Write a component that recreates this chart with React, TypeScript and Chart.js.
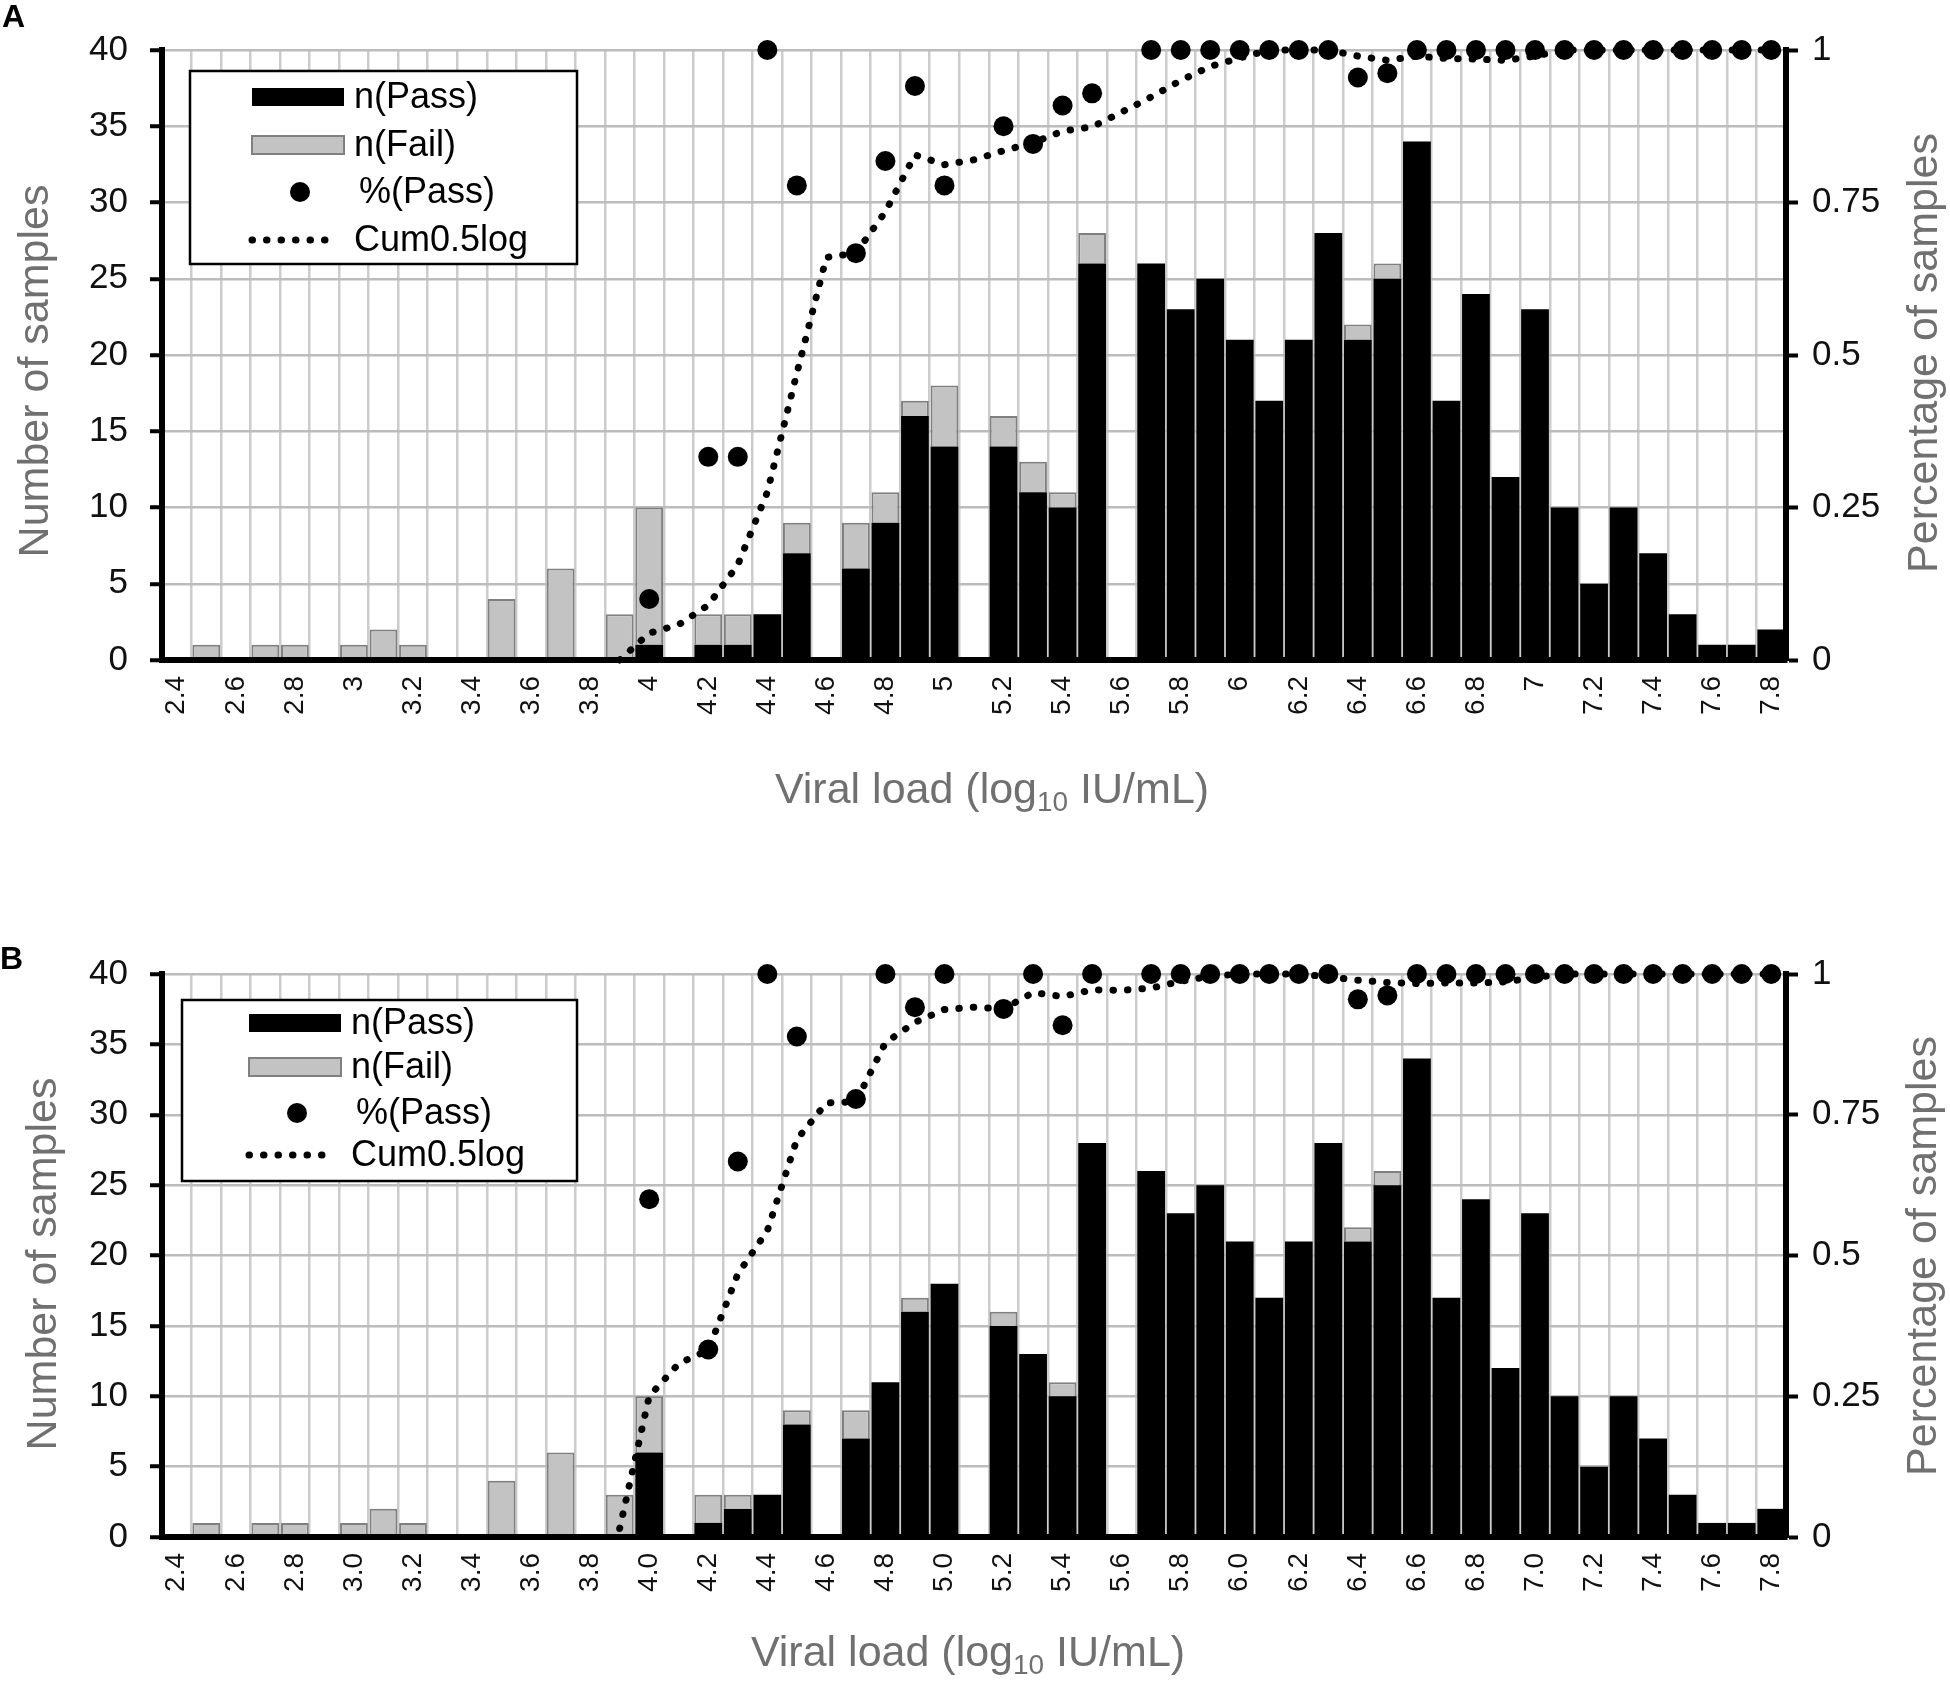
import { useEffect, useRef } from 'react';
import { Chart, ChartConfiguration, Plugin, registerables } from 'chart.js';

Chart.register(...registerables);

const FONT = '"Liberation Sans", Arial, Helvetica, sans-serif';

const CATEGORIES = [
  '2.4', '2.5', '2.6', '2.7', '2.8', '2.9', '3.0', '3.1', '3.2', '3.3',
  '3.4', '3.5', '3.6', '3.7', '3.8', '3.9', '4.0', '4.1', '4.2', '4.3',
  '4.4', '4.5', '4.6', '4.7', '4.8', '4.9', '5.0', '5.1', '5.2', '5.3',
  '5.4', '5.5', '5.6', '5.7', '5.8', '5.9', '6.0', '6.1', '6.2', '6.3',
  '6.4', '6.5', '6.6', '6.7', '6.8', '6.9', '7.0', '7.1', '7.2', '7.3',
  '7.4', '7.5', '7.6', '7.7', '7.8',
];

const RIGHT_TICKS = ['0', '0.25', '0.5', '0.75', '1'];

// panel A
const PASS_A = [
  0, 0, 0, 0, 0, 0, 0, 0, 0, 0,
  0, 0, 0, 0, 0, 0, 1, 0, 1, 1,
  3, 7, 0, 6, 9, 16, 14, 0, 14, 11,
  10, 26, 0, 26, 23, 25, 21, 17, 21, 28,
  21, 25, 34, 17, 24, 12, 23, 10, 5, 10,
  7, 3, 1, 1, 2,
];
const FAIL_A = [
  0, 1, 0, 1, 1, 0, 1, 2, 1, 0,
  0, 4, 0, 6, 0, 3, 9, 0, 2, 2,
  0, 2, 0, 3, 2, 1, 4, 0, 2, 2,
  1, 2, 0, 0, 0, 0, 0, 0, 0, 0,
  1, 1, 0, 0, 0, 0, 0, 0, 0, 0,
  0, 0, 0, 0, 0,
];
const PCT_A = [
  null, null, null, null, null, null, null, null, null, null,
  null, null, null, null, null, null, 0.1, null, 0.333, 0.333,
  1, 0.778, null, 0.667, 0.818, 0.941, 0.778, null, 0.875, 0.846,
  0.909, 0.929, null, 1, 1, 1, 1, 1, 1, 1,
  0.955, 0.962, 1, 1, 1, 1, 1, 1, 1, 1,
  1, 1, 1, 1, 1,
];
const CUM_A = [
  null, null, null, null, null, null, null, null, null, null,
  null, null, null, null, null, 0, 0.044, 0.058, 0.09, 0.156,
  0.275, 0.47, 0.66, 0.667, 0.735, 0.828, 0.812, 0.82, 0.835, 0.848,
  0.867, 0.874, 0.898, 0.923, 0.95, 0.973, 0.987, 1, 1, 1,
  0.99, 0.983, 0.99, 0.986, 0.985, 0.983, 0.99, 1, 1, 1,
  1, 1, 1, 1, 1,
];

// panel B
const PASS_B = [
  0, 0, 0, 0, 0, 0, 0, 0, 0, 0,
  0, 0, 0, 0, 0, 0, 6, 0, 1, 2,
  3, 8, 0, 7, 11, 16, 18, 0, 15, 13,
  10, 28, 0, 26, 23, 25, 21, 17, 21, 28,
  21, 25, 34, 17, 24, 12, 23, 10, 5, 10,
  7, 3, 1, 1, 2,
];
const FAIL_B = [
  0, 1, 0, 1, 1, 0, 1, 2, 1, 0,
  0, 4, 0, 6, 0, 3, 4, 0, 2, 1,
  0, 1, 0, 2, 0, 1, 0, 0, 1, 0,
  1, 0, 0, 0, 0, 0, 0, 0, 0, 0,
  1, 1, 0, 0, 0, 0, 0, 0, 0, 0,
  0, 0, 0, 0, 0,
];
const PCT_B = [
  null, null, null, null, null, null, null, null, null, null,
  null, null, null, null, null, null, 0.6, null, 0.333, 0.667,
  1, 0.889, null, 0.778, 1, 0.941, 1, null, 0.938, 1,
  0.909, 1, null, 1, 1, 1, 1, 1, 1, 1,
  0.955, 0.962, 1, 1, 1, 1, 1, 1, 1, 1,
  1, 1, 1, 1, 1,
];
const CUM_B = [
  null, null, null, null, null, null, null, null, null, null,
  null, null, null, null, null, 0.015, 0.25, 0.308, 0.332, 0.467,
  0.544, 0.706, 0.771, 0.773, 0.878, 0.914, 0.937, 0.941, 0.938, 0.967,
  0.96, 0.972, 0.971, 0.975, 0.987, 0.996, 1, 1, 1, 0.995,
  0.989, 0.985, 0.983, 0.984, 0.984, 0.986, 0.994, 1, 1, 1,
  1, 1, 1, 1, 1,
];

const LEGEND_LABELS = ['n(Pass)', 'n(Fail)', '%(Pass)', 'Cum0.5log'];

interface PanelSpec {
  letter: string;
  pass: number[];
  fail: number[];
  pct: (number | null)[];
  cum: (number | null)[];
  tickLabel: (c: string) => string;
  top: number;
  height: number;
  padTop: number;
  xHeight: number;
  letterPos: [number, number];
  xTitlePos: [number, number];
  yTitlePos: [number, number];
  y1TitlePos: [number, number];
  legendBox: [number, number, number, number];
  legendRows: number[];
  swatch: [number, number];
  dotX: number;
  textX: number;
}

const PANEL_A: PanelSpec = {
  letter: 'A',
  pass: PASS_A,
  fail: FAIL_A,
  pct: PCT_A,
  cum: CUM_A,
  tickLabel: (c) => String(Number(c)),
  top: 0,
  height: 880,
  padTop: 50,
  xHeight: 220,
  letterPos: [2, 2],
  xTitlePos: [992, 791],
  yTitlePos: [36, 371],
  y1TitlePos: [1925, 353],
  legendBox: [190, 71, 577, 264],
  legendRows: [97, 145, 192, 240],
  swatch: [252, 344],
  dotX: 300,
  textX: 354,
};

const PANEL_B: PanelSpec = {
  letter: 'B',
  pass: PASS_B,
  fail: FAIL_B,
  pct: PCT_B,
  cum: CUM_B,
  tickLabel: (c) => c,
  top: 900,
  height: 782,
  padTop: 74,
  xHeight: 145,
  letterPos: [0, 44],
  xTitlePos: [968, 754],
  yTitlePos: [44, 364],
  y1TitlePos: [1924, 356],
  legendBox: [182, 100, 577, 281],
  legendRows: [123, 167, 213, 255],
  swatch: [249, 341],
  dotX: 297,
  textX: 351,
};

function decorPlugin(p: PanelSpec): Plugin {
  return {
    id: 'decor',
    afterDraw(chart) {
      const ctx = chart.ctx;
      ctx.save();

      // panel letter
      ctx.fillStyle = '#000';
      ctx.font = `bold 32px ${FONT}`;
      ctx.textAlign = 'left';
      ctx.textBaseline = 'top';
      ctx.fillText(p.letter, p.letterPos[0], p.letterPos[1]);

      // axis titles
      ctx.fillStyle = '#707070';
      ctx.textBaseline = 'middle';
      const big = `43px ${FONT}`;
      const small = `28px ${FONT}`;
      const parts = ['Viral load (log', '10', ' IU/mL)'];
      ctx.font = big;
      const w0 = ctx.measureText(parts[0]).width;
      const w2 = ctx.measureText(parts[2]).width;
      ctx.font = small;
      const w1 = ctx.measureText(parts[1]).width;
      let x = p.xTitlePos[0] - (w0 + w1 + w2) / 2;
      const y = p.xTitlePos[1];
      ctx.textAlign = 'left';
      ctx.font = big;
      ctx.fillText(parts[0], x, y);
      x += w0;
      ctx.font = small;
      ctx.fillText(parts[1], x, y + 12);
      x += w1;
      ctx.font = big;
      ctx.fillText(parts[2], x, y);

      ctx.textAlign = 'center';
      for (const [pos, text] of [
        [p.yTitlePos, 'Number of samples'],
        [p.y1TitlePos, 'Percentage of samples'],
      ] as [[number, number], string][]) {
        ctx.save();
        ctx.translate(pos[0], pos[1]);
        ctx.rotate(-Math.PI / 2);
        ctx.fillText(text, 0, 0);
        ctx.restore();
      }

      // legend
      const [bx1, by1, bx2, by2] = p.legendBox;
      ctx.fillStyle = '#fff';
      ctx.fillRect(bx1, by1, bx2 - bx1, by2 - by1);
      ctx.strokeStyle = '#000';
      ctx.lineWidth = 2.5;
      ctx.strokeRect(bx1, by1, bx2 - bx1, by2 - by1);

      const [sx1, sx2] = p.swatch;
      const rows = p.legendRows;
      ctx.fillStyle = '#000';
      ctx.fillRect(sx1, rows[0] - 9, sx2 - sx1, 18);

      ctx.fillStyle = '#c3c3c3';
      ctx.fillRect(sx1, rows[1] - 9, sx2 - sx1, 18);
      ctx.strokeStyle = '#808080';
      ctx.lineWidth = 2;
      ctx.strokeRect(sx1, rows[1] - 9, sx2 - sx1, 18);

      ctx.fillStyle = '#000';
      ctx.beginPath();
      ctx.arc(p.dotX, rows[2], 10, 0, Math.PI * 2);
      ctx.fill();

      ctx.strokeStyle = '#000';
      ctx.lineWidth = 7;
      ctx.lineCap = 'round';
      ctx.setLineDash([0.5, 14]);
      ctx.beginPath();
      ctx.moveTo(sx1, rows[3]);
      ctx.lineTo(sx2 - 6, rows[3]);
      ctx.stroke();
      ctx.setLineDash([]);

      ctx.fillStyle = '#000';
      ctx.font = `36px ${FONT}`;
      ctx.textAlign = 'left';
      ctx.textBaseline = 'middle';
      LEGEND_LABELS.forEach((label, i) => {
        ctx.fillText(label, p.textX + (i === 2 ? 5 : 0), rows[i] + 1);
      });

      ctx.restore();
    },
  };
}

function buildConfig(p: PanelSpec): ChartConfiguration {
  const tickFont = { family: FONT, size: 35 };
  return {
    type: 'bar',
    data: {
      labels: CATEGORIES,
      datasets: [
        {
          type: 'line',
          label: LEGEND_LABELS[2],
          data: p.pct,
          yAxisID: 'y1',
          showLine: false,
          pointRadius: 10,
          pointBackgroundColor: '#000',
          pointBorderColor: '#000',
          pointBorderWidth: 0,
          order: 0,
          clip: false,
        },
        {
          type: 'line',
          label: LEGEND_LABELS[3],
          data: p.cum,
          yAxisID: 'y1',
          borderColor: '#000',
          borderWidth: 7,
          borderDash: [0.5, 14],
          borderCapStyle: 'round',
          pointRadius: 0,
          tension: 0,
          order: 1,
          clip: false,
        },
        {
          type: 'bar',
          label: LEGEND_LABELS[0],
          data: p.pass,
          yAxisID: 'y',
          backgroundColor: '#000',
          borderWidth: 0,
          barPercentage: 0.94,
          categoryPercentage: 1,
          order: 2,
        },
        {
          type: 'bar',
          label: LEGEND_LABELS[1],
          data: p.fail,
          yAxisID: 'y',
          backgroundColor: '#c3c3c3',
          borderColor: '#808080',
          borderWidth: 2,
          barPercentage: 0.94,
          categoryPercentage: 1,
          order: 3,
        },
      ] as any,
    },
    options: {
      responsive: false,
      animation: false,
      devicePixelRatio: 1,
      events: [],
      layout: { padding: { top: p.padTop, left: 0, right: 0, bottom: 0 } },
      plugins: {
        legend: { display: false },
        tooltip: { enabled: false },
      },
      scales: {
        x: {
          stacked: true,
          offset: true,
          grid: { offset: true, color: '#cccccc', lineWidth: 2.5, drawTicks: false },
          border: { display: true, color: '#000', width: 6, z: 1 },
          ticks: {
            autoSkip: false,
            minRotation: 90,
            maxRotation: 90,
            padding: 16,
            color: '#111',
            font: { family: FONT, size: 28 },
            callback: (_v: any, i: number) => (i % 2 === 0 ? p.tickLabel(CATEGORIES[i]) : ''),
          },
          afterFit: (s: any) => {
            s.height = p.xHeight;
          },
        },
        y: {
          position: 'left',
          stacked: true,
          min: 0,
          max: 40,
          ticks: { stepSize: 5, padding: 22, color: '#111', font: tickFont },
          grid: { color: '#bcbcbc', lineWidth: 2.5, tickColor: '#000', tickWidth: 4, tickLength: 12 },
          border: { display: true, color: '#000', width: 6, z: 1 },
          afterFit: (s: any) => {
            s.width = 162;
          },
        },
        y1: {
          position: 'right',
          stacked: false,
          min: 0,
          max: 1,
          ticks: {
            stepSize: 0.25,
            padding: 14,
            color: '#111',
            font: tickFont,
            callback: (_v: any, i: number) => RIGHT_TICKS[i],
          },
          grid: { drawOnChartArea: false, tickColor: '#000', tickWidth: 4, tickLength: 12 },
          border: { display: true, color: '#000', width: 6, z: 1 },
          afterFit: (s: any) => {
            s.width = 164;
          },
        },
      },
    },
    plugins: [decorPlugin(p)],
  } as ChartConfiguration;
}

function ChartPanel({ spec }: { spec: PanelSpec }) {
  const canvasRef = useRef<HTMLCanvasElement>(null);

  useEffect(() => {
    if (!canvasRef.current) return;
    const chart = new Chart(canvasRef.current, buildConfig(spec));
    return () => chart.destroy();
  }, [spec]);

  return (
    <canvas
      ref={canvasRef}
      width={1950}
      height={spec.height}
      style={{ position: 'absolute', left: 0, top: spec.top, width: 1950, height: spec.height }}
    />
  );
}

export default function App() {
  useEffect(() => {
    document.body.style.margin = '0';
  }, []);

  return (
    <div style={{ position: 'relative', width: 1950, height: 1682, background: '#fff' }}>
      <ChartPanel spec={PANEL_A} />
      <ChartPanel spec={PANEL_B} />
    </div>
  );
}
